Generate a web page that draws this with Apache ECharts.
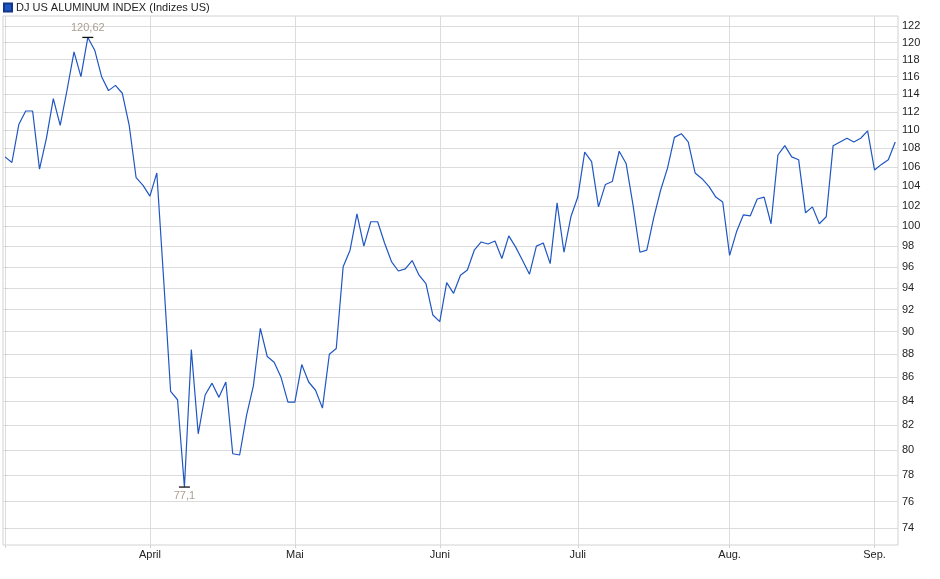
<!DOCTYPE html>
<html>
<head>
<meta charset="utf-8">
<script src="https://cdn.jsdelivr.net/npm/echarts@6/dist/echarts.min.js"></script>
<style>
  html, body { margin: 0; padding: 0; background: #fff; }
  #chart { width: 940px; height: 579px; }
</style>
</head>
<body>
<div id="chart"></div>
<script>
// trading days from 03.03. to 05.09., one value per day
let values = [
  107.1, 106.5, 110.6, 112.1, 112.1, 105.8, 109.1, 113.5, 110.5, 114.5,
  118.9, 116.0, 120.62, 119.1, 116.0, 114.4, 115.0, 114.1, 110.5, 104.9,
  104.1, 103.0, 105.4, 94.7, 84.8, 84.1, 77.1, 88.4, 81.3, 84.5,
  85.5, 84.3, 85.6, 79.7, 79.6, 82.8, 85.3, 90.3, 87.8, 87.3,
  86.0, 83.9, 83.9, 87.1, 85.6, 84.9, 83.4, 88.0, 88.5, 96.0,
  97.6, 101.2, 98.0, 100.4, 100.4, 98.3, 96.5, 95.6, 95.8, 96.6,
  95.2, 94.4, 91.5, 90.9, 94.5, 93.5, 95.2, 95.7, 97.6, 98.4,
  98.2, 98.5, 96.8, 99.0, 97.9, 96.6, 95.3, 98.0, 98.3, 96.3,
  102.3, 97.4, 100.9, 102.9, 107.6, 106.6, 101.9, 104.2, 104.5, 107.7,
  106.4, 102.1, 97.4, 97.6, 100.8, 103.6, 105.9, 109.2, 109.6, 108.7,
  105.4, 104.8, 104.0, 102.9, 102.4, 97.1, 99.4, 101.1, 101.0, 102.7,
  102.9, 100.2, 107.3, 108.3, 107.1, 106.8, 101.3, 101.9, 100.2, 100.9,
  108.3, 108.7, 109.1, 108.7, 109.1, 109.9, 105.7, 106.3, 106.8, 108.7
];

// first trading day of each month (index into values)
let monthStarts = [0, 21, 42, 63, 83, 105, 126];
let monthLabels = ['', 'April', 'Mai', 'Juni', 'Juli', 'Aug.', 'Sep.'];

let yTicks = [74, 76, 78, 80, 82, 84, 86, 88, 90, 92, 94, 96, 98, 100,
              102, 104, 106, 108, 110, 112, 114, 116, 118, 120, 122];

let seriesName = 'DJ US ALUMINUM INDEX (Indizes US)';

let points = values.map(function (v, i) { return [i, v]; });

let chart = echarts.init(document.getElementById('chart'));

let fontFamily = 'Arial, "Liberation Sans", sans-serif';

let option = {
    animation: false,
    textStyle: { fontFamily: fontFamily },
    legend: {
        data: [seriesName],
        left: -2,
        top: -2,
        padding: [4, 5],
        icon: 'rect',
        itemWidth: 8,
        itemHeight: 8,
        itemGap: 4,
        textStyle: { fontSize: 11, color: '#222', fontFamily: fontFamily, padding: [0, 0, 0, -1] }
    },
    grid: {
        left: 3,
        right: 42,
        top: 16,
        bottom: 34,
        show: true,
        borderColor: '#d2d2d2',
        borderWidth: 1
    },
    xAxis: {
        type: 'value',
        min: -0.29,
        max: 129.4,
        axisLine: { show: false },
        axisTick: {
            show: true,
            length: 3,
            customValues: monthStarts,
            lineStyle: { color: '#d2d2d2' }
        },
        axisLabel: {
            customValues: monthStarts,
            margin: 4,
            fontSize: 11,
            color: '#222',
            fontFamily: fontFamily,
            formatter: function (v) {
                let k = monthStarts.indexOf(Math.round(v));
                return k >= 0 ? monthLabels[k] : '';
            }
        },
        splitLine: { show: true, lineStyle: { color: '#dcdcdc', width: 1 } }
    },
    yAxis: {
        type: 'log',
        logBase: 10,
        position: 'right',
        min: 72.78,
        max: 123.22,
        axisLine: { show: false },
        axisTick: {
            show: true,
            length: 3,
            customValues: yTicks,
            lineStyle: { color: '#d2d2d2' }
        },
        axisLabel: {
            customValues: yTicks,
            margin: 4,
            fontSize: 11,
            color: '#222',
            fontFamily: fontFamily,
            formatter: function (v) { return String(Math.round(v)); }
        },
        splitLine: { show: true, lineStyle: { color: '#dcdcdc', width: 1 } }
    },
    series: [{
        name: seriesName,
        type: 'line',
        data: points,
        showSymbol: false,
        symbol: 'none',
        color: '#1f56c2',
        lineStyle: { width: 1.2, color: '#1f56c2' },
        itemStyle: { color: '#1f56c2', borderColor: '#12378a', borderWidth: 1 },
        markPoint: {
            symbol: 'rect',
            symbolSize: [11, 1.3],
            itemStyle: { color: '#111' },
            label: {
                fontSize: 11,
                color: '#ad9f8f',
                fontFamily: fontFamily,
                formatter: function (p) { return String(p.value).replace('.', ','); }
            },
            data: [
                { type: 'max', valueDim: 'y', label: { position: 'top', distance: 3 } },
                { type: 'min', valueDim: 'y', label: { position: 'bottom', distance: 3 } }
            ]
        }
    }]
};

chart.setOption(option);
</script>
</body>
</html>
